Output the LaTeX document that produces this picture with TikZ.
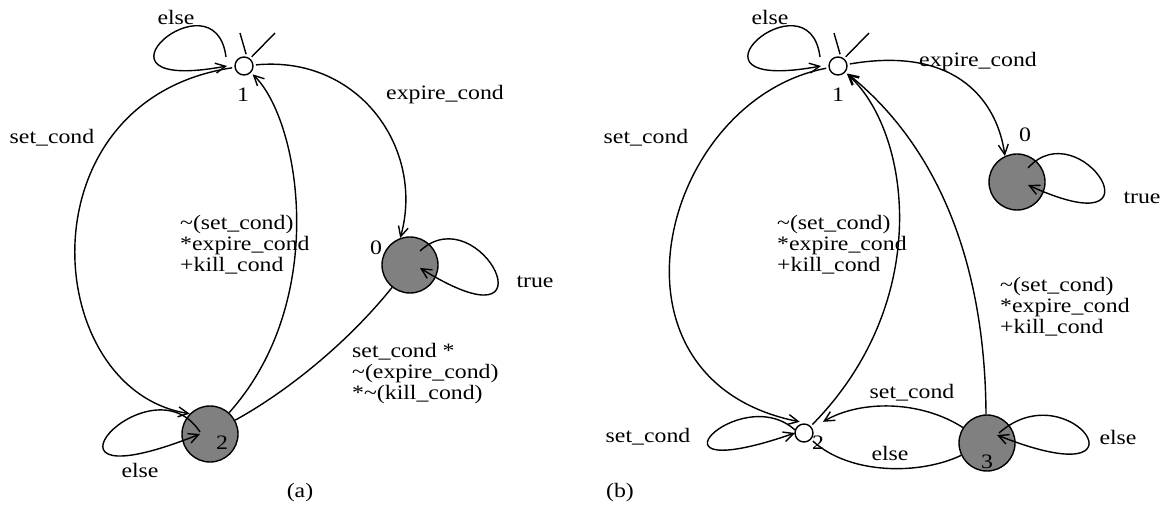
\documentclass[tikz,border=0pt]{standalone}
\usepackage{fontspec}
\setmainfont{Liberation Serif}[FakeStretch=1.16]
\usetikzlibrary{arrows.meta}
\tikzset{
  st/.style={circle, draw=black, fill=black!50, line width=1.4pt, minimum size=56pt, inner sep=0pt},  % shaded state
  sm/.style={circle, draw=black, fill=white, line width=1.4pt, minimum size=18pt, inner sep=0pt,
             outer sep=3pt},                                                                       % small state
  tr/.style={draw=black, line width=1.4pt, -{Straight Barb[length=10pt,width=10pt]}},             % transition
  ln/.style={draw=black, line width=1.4pt},                                                        % plain line
  lab/.style={font=\fontsize{20.5}{21}\selectfont, inner sep=0pt, align=left},
}
\begin{document}
\begin{tikzpicture}[x=1pt, y=-1pt]
  \useasboundingbox (0,0) rectangle (1164,510);
  % (a)
  \node[sm] (a1) at (244,66)  {};
  \node[st] (a0) at (410,265) {};
  \node[st] (a2) at (210,434) {};
  \coordinate (a1p) at (240,33);
  \coordinate (a1q) at (275,33);
  \draw[ln] (a1p) -- (a1.80);
  \draw[ln] (a1q) -- (a1.50);
  \draw[tr] ([shift={(-18,-9)}]a1.center) .. controls (215,-30) and (70,95) .. ([shift={(-17,0)}]a1.center);
  \draw[tr] (a1) .. controls (360,55) and (425,150) .. (a0.110);
  \draw[tr] (a1) .. controls (20,100) and (40,390) .. (a2.135);
  \draw[tr] (a2) .. controls (330,300) and (300,120) .. (a1);
  \draw[ln] (a0) .. controls (350,340) and (290,390) .. (a2);
  \draw[tr] ([shift={(10,-14)}]a0.center) .. controls (480,195) and (560,355) .. ([shift={(10,3)}]a0.center);
  \draw[tr] ([shift={(-10,-2)}]a2.center) .. controls (150,355) and (10,510) .. ([shift={(-10,0)}]a2.center);
  \node[lab] (la1)  at (176,17)  {else};
  \node[lab] (ln1)  at (243,95)  {1};
  \node[lab] (la2)  at (52,138)  {set\_cond};
  \node[lab] (la3)  at (445,95)  {expire\_cond};
  \node[lab] (ln0)  at (376,248) {0};
  \node[lab] (la4)  at (535,282) {true};
  \node[lab] (ln2)  at (222,443) {2};
  \node[lab] (la5)  at (140,470) {else};
  \node[lab, anchor=north west] (la6) at (180,215) {\textasciitilde(set\_cond)\\*expire\_cond\\+kill\_cond};
  \node[lab, anchor=north west] (la7) at (352,343) {set\_cond *\\\textasciitilde(expire\_cond)\\*\textasciitilde(kill\_cond)};
  \node[lab] (capa) at (300,493) {(a)};
  % (b)
  \node[sm] (b1) at (838,66)   {};
  \node[st] (b0) at (1017,182) {};
  \node[sm] (b2) at (804,433)  {};
  \node[st] (b3) at (987,443)  {};
  \coordinate (b1p) at (834,33);
  \coordinate (b1q) at (869,33);
  \draw[ln] (b1p) -- (b1.80);
  \draw[ln] (b1q) -- (b1.50);
  \draw[tr] ([shift={(-18,-9)}]b1.center) .. controls (809,-30) and (664,95) .. ([shift={(-17,0)}]b1.center);
  \draw[tr] (b1) .. controls (960,45) and (998,105) .. (b0.115);
  \draw[tr] ([shift={(11,-14)}]b0.center) .. controls (1080,110) and (1170,250) .. ([shift={(11,3)}]b0.center);
  \draw[tr] (b1) .. controls (660,100) and (590,380) .. (b2.111);
  \draw[tr] (b2) .. controls (935,300) and (910,130) .. (b1);
  \draw[tr] (b3.92) .. controls (985,250) and (930,140) .. (b1);
  \draw[tr] ([shift={(-9,-3)}]b2.center) .. controls (740,380) and (630,490) .. ([shift={(-9,0)}]b2.center);
  \draw[tr, shorten >=10pt] (b3) .. controls (920,400) and (860,400) .. (b2);
  \draw[ln] (b2) .. controls (850,475) and (920,475) .. (b3);
  \draw[tr] ([shift={(12,-10)}]b3.center) .. controls (1070,370) and (1160,500) .. ([shift={(10,-8)}]b3.center);
  \node[lab] (lb1)  at (770,17)   {else};
  \node[lab] (mn1)  at (838,95)   {1};
  \node[lab] (lb2)  at (646,138)  {set\_cond};
  \node[lab] (lb3)  at (978,62)   {expire\_cond};
  \node[lab] (mn0)  at (1025,135) {0};
  \node[lab] (lb4)  at (1142,198) {true};
  \node[lab, anchor=north west] (lb5) at (777,215) {\textasciitilde(set\_cond)\\*expire\_cond\\+kill\_cond};
  \node[lab, anchor=north west] (lb6) at (1000,277) {\textasciitilde(set\_cond)\\*expire\_cond\\+kill\_cond};
  \node[lab] (lb7)  at (648,437)  {set\_cond};
  \node[lab] (mn2)  at (818,443)  {2};
  \node[lab] (lb8)  at (912,393)  {set\_cond};
  \node[lab] (lb9)  at (890,453)  {else};
  \node[lab] (mn3)  at (987,462)  {3};
  \node[lab] (lb10) at (1118,437) {else};
  \node[lab] (capb) at (620,493)  {(b)};
\end{tikzpicture}
\end{document}
